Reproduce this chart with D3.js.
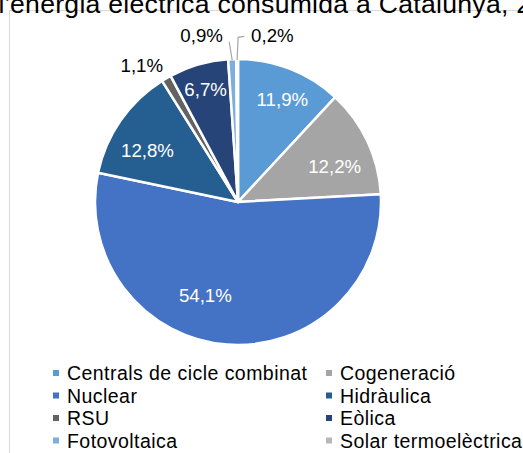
<!DOCTYPE html>
<html>
<head>
<meta charset="utf-8">
<script src="https://cdn.jsdelivr.net/npm/d3@7"></script>
<style>
  body { margin: 0; background: #fff; }
  svg { display: block; font-family: "Liberation Sans", Arial, sans-serif; }
</style>
</head>
<body>
<div class="canvas"></div>
<script>
// ---- DATA --- //
const title = "Producció de l'energia elèctrica consumida a Catalunya, 2019";
const categories = ["Centrals de cicle combinat", "Cogeneració", "Nuclear", "Hidràulica",
    "RSU", "Eòlica", "Fotovoltaica", "Solar termoelèctrica"];
const values = [11.9, 12.2, 54.1, 12.8, 1.1, 6.7, 0.9, 0.2];
const labels = ["11,9%", "12,2%", "54,1%", "12,8%", "1,1%", "6,7%", "0,9%", "0,2%"];
const colors = ["#5B9BD5", "#A5A5A5", "#4472C4", "#255E91", "#636363", "#264478", "#7CAFDD", "#B7B7B7"];

// label placement (radius factor, angle shift in degrees), Excel-like best fit
const labelLayout = [
    { r: 0.78, da: 2 }, { r: 0.72, da: 5 }, { r: 0.69, da: 15 }, { r: 0.73, da: -5 },
    { r: 1.17, da: -5 }, { r: 0.82, da: 0 }, { r: 1.19, da: -10 }, { r: 1.19, da: 12 }
];
const outside = [false, false, false, false, true, false, true, true];
const leader = [false, false, false, false, false, false, true, true];

// ---- SVG SETUP --- //
const width = 523, height = 453;
const svg = d3.select('.canvas')
    .append('svg')
    .attr('width', width)
    .attr('height', height);

// chart area border
svg.append('rect')
    .attr('x', 9.5).attr('y', 10.5)
    .attr('width', 600).attr('height', 500)
    .attr('fill', 'none')
    .attr('stroke', '#D9D9D9');

// title (cut off by the picture edge)
const titleText = svg.append('text')
    .attr('y', 12.5)
    .attr('font-size', 26.6)
    .attr('letter-spacing', 0.27)
    .attr('fill', '#000')
    .text(title);
const idx = title.indexOf("energia");
const shift = titleText.node().getStartPositionOfChar(idx).x;
titleText.attr('x', 10 - shift);

// ---- PIE --- //
const cx = 238, cy = 202, R = 143;
const pie = d3.pie().sort(null).value(d => d);
const arcs = pie(values);
const arc = d3.arc().innerRadius(0).outerRadius(R);

const g = svg.append('g').attr('transform', `translate(${cx},${cy})`);

g.selectAll('path.slice')
    .data(arcs)
    .enter().append('path')
    .attr('class', 'slice')
    .attr('d', arc)
    .attr('fill', (d, i) => colors[i])
    .attr('stroke', '#fff')
    .attr('stroke-width', 2.5)
    .attr('stroke-linejoin', 'round');

const labelPoint = (d, i) => {
    const a = (d.startAngle + d.endAngle) / 2 + labelLayout[i].da * Math.PI / 180;
    const r = R * labelLayout[i].r;
    return [r * Math.sin(a), -r * Math.cos(a)];
};

// leader lines for the thin slices
arcs.forEach((d, i) => {
    if (!leader[i]) return;
    const a = (d.startAngle + d.endAngle) / 2;
    const p0 = [(R - 1) * Math.sin(a), -(R - 1) * Math.cos(a)];
    const p = labelPoint(d, i);
    let pts;
    if (p[0] < p0[0]) {
        pts = [p0, [p0[0] - 3, p[1] + 6]];
    } else {
        pts = [p0, [p0[0] + 1, p[1] + 2], [p[0] - 28, p[1] + 1]];
    }
    g.append('path')
        .attr('d', d3.line()(pts))
        .attr('fill', 'none')
        .attr('stroke', '#A6A6A6')
        .attr('stroke-width', 1.2);
});

g.selectAll('text.lbl')
    .data(arcs)
    .enter().append('text')
    .attr('class', 'lbl')
    .attr('transform', (d, i) => `translate(${labelPoint(d, i)})`)
    .attr('text-anchor', 'middle')
    .attr('dy', '0.35em')
    .attr('font-size', 18.67)
    .attr('fill', (d, i) => outside[i] ? '#000' : '#fff')
    .text((d, i) => labels[i]);

// ---- LEGEND --- //
const colX = [53, 326];
const rowY = [380, 402.5, 425, 447.5];
const legend = svg.append('g');
categories.forEach((c, i) => {
    const x = colX[i % 2], y = rowY[Math.floor(i / 2)];
    legend.append('rect')
        .attr('x', x).attr('y', y - 10)
        .attr('width', 6).attr('height', 6)
        .attr('fill', colors[i]);
    legend.append('text')
        .attr('x', x + 14).attr('y', y)
        .attr('font-size', 19.5)
        .attr('letter-spacing', 0.45)
        .attr('fill', '#000')
        .text(c);
});
</script>
</body>
</html>
